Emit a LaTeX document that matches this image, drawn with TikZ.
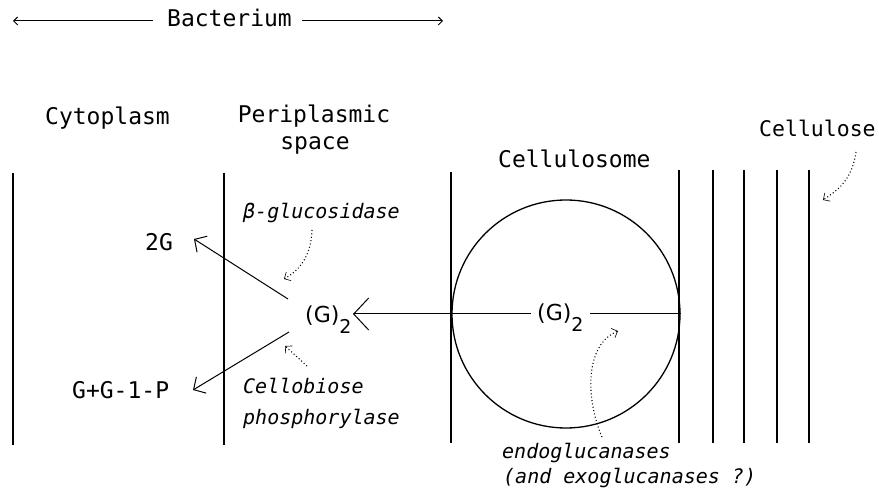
\documentclass[tikz,border=0pt]{standalone}
\usepackage{fontspec}
\setmainfont{DejaVu Sans Mono}
\newfontfamily\propf{DejaVu Sans}
\usetikzlibrary{arrows.meta}
\begin{document}
\begin{tikzpicture}[x=1pt,y=-1pt,
  wall/.style={line width=1.3pt},
  lbl/.style={inner sep=0pt, anchor=base west, font=\fontsize{23}{26}\selectfont},
  ilbl/.style={inner sep=0pt, anchor=base west, font=\fontsize{20}{22}\selectfont\itshape},
  glbl/.style={inner sep=0pt, anchor=base west, font=\propf\fontsize{22}{24}\selectfont},
  flow/.style={line width=1pt, -{Straight Barb[length=9pt,width=19pt,line width=1pt]}},
  bigflow/.style={line width=1pt, -{Straight Barb[length=15pt,width=32pt,line width=1pt]}},
  span/.style={line width=1pt, -{Straight Barb[length=4pt,width=8pt,line width=1pt]}},
  hint/.style={line width=1.1pt, dash pattern=on 1pt off 2.4pt, -{Straight Barb[length=5pt,width=10pt,line width=0.6pt]}},
]
\useasboundingbox (0,0) rectangle (879,494);

% Bacterium span
\node[lbl] (bact) at (167,27) {Bacterium};
\coordinate (bl) at (13,21);
\coordinate (blin) at (153,21);
\coordinate (br) at (443,21);
\coordinate (brin) at (302,21);
\draw[span] (blin) -- (bl);
\draw[span] (brin) -- (br);

% compartment labels
\node[lbl] (cyto) at (45,125) {Cytoplasm};
\node[lbl, anchor=base] (peri) at (314,123) {Periplasmic};
\node[lbl, anchor=base] (space) at (315,150) {space};
\node[lbl] (csome) at (498,168) {Cellulosome};
\node[lbl, font=\fontsize{21.5}{24}\selectfont] (cose) at (759,137) {Cellulose};

% walls
\draw[wall] (13,173) -- (13,445);
\draw[wall] (224,173) -- (224,445);
\draw[wall] (451,172) -- (451,443);
\foreach \xx in {679,713,744,777,809} {\draw[wall] (\xx,170) -- (\xx,443);}

% cellulosome
\node[draw, circle, line width=1.3pt, minimum size=228pt, inner sep=0pt] (circ) at (566,314) {};

% products
\node[lbl] (twoG) at (145,251) {2G};
\node[lbl] (ggp) at (72,399) {G+G-1-P};

% cellobiose in periplasm
\node[glbl] (g2l) at (305,323) {(G)\raisebox{-11pt}{\fontsize{19}{20}\selectfont 2}};

% arrow from cellulosome
\coordinate (tipH) at (353,314);
\draw[bigflow] (circ.east) -- (tipH);
\node[glbl, fill=white, inner xsep=6pt] (g2r) at (531,321) {(G)\raisebox{-11pt}{\fontsize{19}{20}\selectfont 2}};

% hydrolysis / phosphorolysis arrows
\coordinate (s1) at (288,299);
\coordinate (t1) at (194,239);
\coordinate (s2) at (289,332);
\coordinate (t2) at (193,390);
\draw[flow] (s1) -- (t1);
\draw[flow] (s2) -- (t2);

% enzyme labels
\node[ilbl] (bglu) at (243,219) {β-glucosidase};
\node[ilbl] (cello) at (243,394) {Cellobiose};
\node[ilbl] (phos) at (243,425) {phosphorylase};
\node[ilbl] (endo) at (502,458) {endoglucanases};
\node[ilbl] (exo) at (503,483) {(and exoglucanases ?)};

% dotted pointers
\coordinate (h1s) at (312,230);
\coordinate (h1e) at (284,279);
\draw[hint] (h1s) .. controls (311,256) and (300,270) .. (h1e);
\coordinate (h2s) at (307,366);
\coordinate (h2e) at (285,346);
\draw[hint] (h2s) -- (h2e);
\coordinate (h3s) at (602,437);
\coordinate (h3e) at (618,331);
\draw[hint] (h3s) .. controls (586,400) and (584,345) .. (h3e);
\coordinate (h4s) at (856,152);
\coordinate (h4e) at (823,200);
\draw[hint] (h4s) .. controls (852,180) and (838,190) .. (h4e);
\end{tikzpicture}
\end{document}
